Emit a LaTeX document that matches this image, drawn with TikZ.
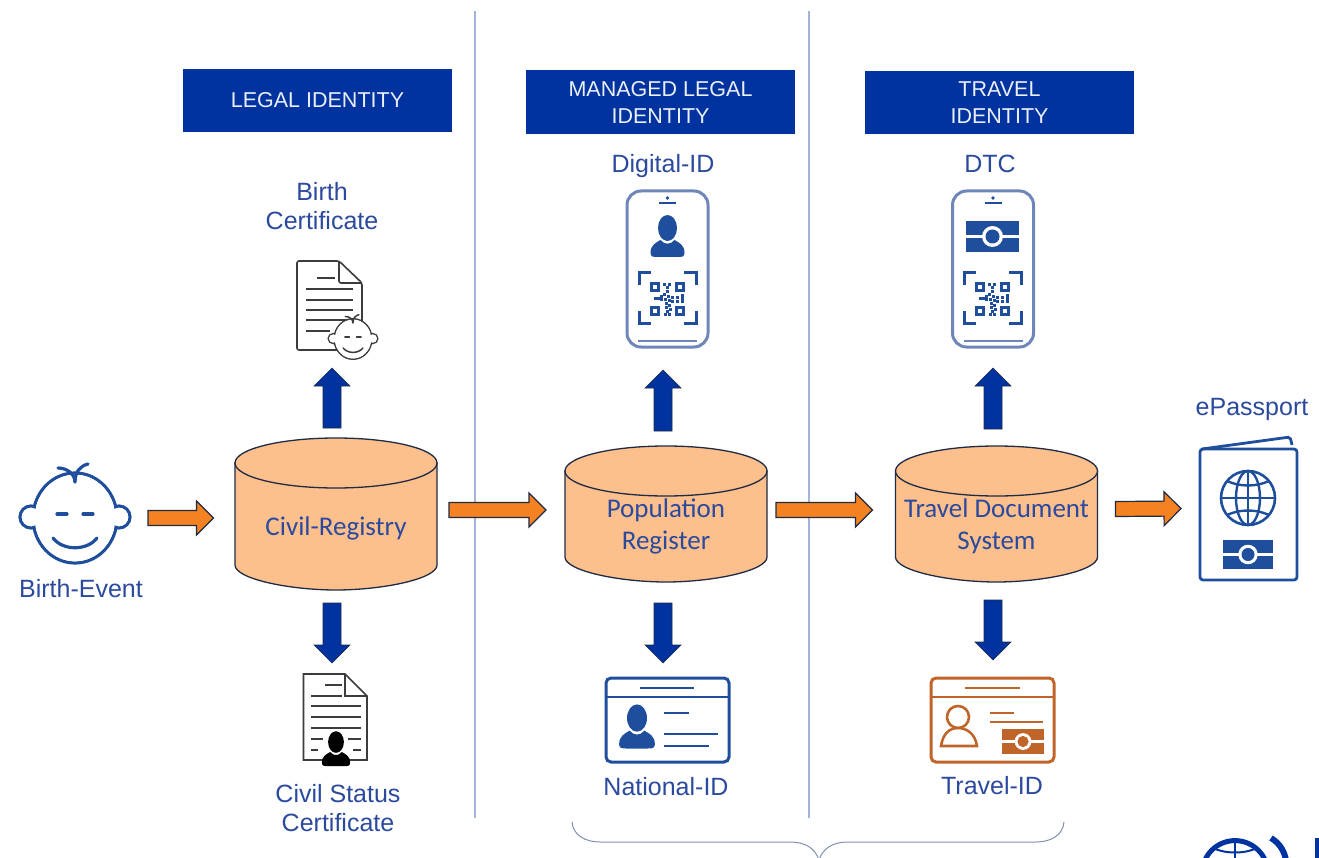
\documentclass[tikz,border=0pt]{standalone}
\usepackage{fontspec}
\setmainfont{Liberation Sans}
\newfontfamily\carlitofont{Carlito}
\usepackage{tikz}
\usetikzlibrary{backgrounds,calc}

\definecolor{headerblue}{HTML}{0033A0}
\definecolor{textblue}{HTML}{2B4A9E}
\definecolor{iconblue}{HTML}{1F4E9C}
\definecolor{phoneblue}{HTML}{6F86B8}
\definecolor{ruleblue}{HTML}{A3B3D9}
\definecolor{bracegray}{HTML}{7F8FB0}
\definecolor{arroworange}{HTML}{F58220}
\definecolor{cylorange}{HTML}{FDBF8C}
\definecolor{outlinedark}{HTML}{1F2A44}
\definecolor{iddarkorange}{HTML}{C0652A}
\definecolor{docgray}{HTML}{3C3C3C}

\begin{document}
\begin{tikzpicture}[x=1pt,y=-1pt,
	header/.style={fill=headerblue,text=white!92!headerblue,minimum width=269pt,minimum height=63.5pt,inner sep=0pt,align=center,font=\fontsize{21.5}{27}\selectfont},
	label/.style={text=textblue,inner sep=0pt,align=center,font=\fontsize{25}{29}\selectfont},
	registry/.style={minimum width=202pt,inner sep=0pt,outer sep=0pt,text=textblue,align=center,font=\carlitofont\fontsize{27}{32}\selectfont},
	drum/.style={draw=outlinedark,line width=1.3pt,fill=cylorange},
	iconbox/.style={inner sep=0pt,outer sep=0pt},
	blockarrow/.style n args={3}{to path={
		($(\tikztostart)!#1pt!90:(\tikztotarget)$)
		-- ($(\tikztotarget)!#3pt!(\tikztostart)!#1pt!-90:(\tikztostart)$)
		-- ($(\tikztotarget)!#3pt!(\tikztostart)!#2pt!-90:(\tikztostart)$)
		-- (\tikztotarget)
		-- ($(\tikztotarget)!#3pt!(\tikztostart)!#2pt!90:(\tikztostart)$)
		-- ($(\tikztotarget)!#3pt!(\tikztostart)!#1pt!90:(\tikztostart)$)
		-- ($(\tikztostart)!#1pt!-90:(\tikztotarget)$) -- cycle}},
	orangearrow/.style={draw=outlinedark,line width=1.2pt,fill=arroworange,blockarrow={7.5}{17}{17}},
	bluearrow/.style={draw=outlinedark,line width=.6pt,fill=headerblue,blockarrow={9}{18}{18}},
	baby/.pic={
		\draw (-44,-1) circle (11);
		\draw (44,-1) circle (11);
		\draw (0,0) ellipse [x radius=42,y radius=45];
		\fill[white] (-44,-1) circle (9.3);
		\fill[white] (44,-1) circle (9.3);
		\fill[white] (0,0) ellipse [x radius=40.3,y radius=43.3];
		\draw[line cap=round] (0,-36) .. controls (0,-44) and (-8,-50) .. (-17,-50);
		\draw[line cap=round] (0,-36) .. controls (0,-46) and (5,-52) .. (13,-54);
		\draw[line cap=round] (-18,-4) -- (-8,-4);
		\draw[line cap=round] (8,-4) -- (18,-4);
		\draw[line cap=round] (-22,20) .. controls (-12,33) and (12,33) .. (22,20);
	},
	person/.pic={
		\fill (-17,16) .. controls (-17,8) and (-12,6) .. (-7,3) .. controls (-3,8) and (3,8) .. (7,3)
			.. controls (12,6) and (17,8) .. (17,16) .. controls (17,20) and (14,20) .. (10,20)
			-- (-10,20) .. controls (-14,20) and (-17,20) .. (-17,16) -- cycle;
		\fill (0,-9) ellipse [x radius=9.5,y radius=13];
	},
	seal/.pic={
		\fill (-26.5,-15.5) rectangle (26.5,15.5);
		\draw[white,line width=2.6pt] (-26.5,0) -- (26.5,0);
		\fill[white] (0,0) circle (10.5);
		\fill (0,0) circle (7);
	},
	qrcode/.pic={
		\draw[line width=3pt] (-28.5,-13) -- (-28.5,-25.5) -- (-16.5,-25.5);
		\draw[line width=3pt] (16.5,-25.5) -- (28.5,-25.5) -- (28.5,-13);
		\draw[line width=3pt] (-28.5,13) -- (-28.5,25.5) -- (-16.5,25.5);
		\draw[line width=3pt] (16.5,25.5) -- (28.5,25.5) -- (28.5,13);
		\foreach \qx/\qy in {-12.5/-11.5,12.5/-11.5,-12.5/12.5,12.5/12.5}
			\draw[line width=2.2pt] (\qx-3.5,\qy-3.5) rectangle (\qx+3.5,\qy+3.5);
		\foreach \qx/\qy in {-3/-14,2/-14,0/-11,0/-7,-12/0,-9/0,-6/-2,-6/1,-3/-4,-2/1,1/-2,2/2,5/-1,5/3,10/-1,15/-3,15/0,15/3,10/3,-1/5,2/7,-1/9,3/11,0/13,-2/16,2/16}
			\fill (\qx-1.6,\qy-1.6) rectangle (\qx+1.6,\qy+1.6);
	},
	phone/.pic={
		\draw[phoneblue,line width=3pt,rounded corners=14pt,fill=white] (-40.5,-78) rectangle (40.5,78);
		\fill (0,-71) circle (1.8);
		\draw[line width=1.3pt] (-8.5,-66) -- (8.5,-66);
		\draw[phoneblue,line width=1.3pt] (-29.5,72) -- (29.5,72);
	},
	]
	\clip (0,0) rectangle (1319,858);

	% Column separators
	\draw[ruleblue,line width=1.5pt] (475,11) -- (475,818);
	\draw[ruleblue,line width=1.5pt] (809,11) -- (809,818);

	% Column headers
	\node[header] (legalhead) at (317.5,100.5) {LEGAL IDENTITY};
	\node[header] (managedhead) at (660.5,102) {MANAGED LEGAL\\IDENTITY};
	\node[header] (travelhead) at (999.5,102.5) {TRAVEL\\IDENTITY};

	% Registries
	\node[registry,minimum height=127pt,text height=22pt] (civil) at (336,526.5) {Civil-Registry};
	\node[registry,minimum height=111pt] (population) at (666,526.5) {Population\\Register};
	\node[registry,minimum height=111pt] (traveldoc) at (996.5,526.5) {Travel Document\\System};
	\begin{scope}[on background layer]
		\foreach \reg in {civil,population,traveldoc} {
			\draw[drum] (\reg.north west) -- ([yshift=25pt]\reg.south west) .. controls ([yshift=11pt]\reg.south west) and ([xshift=55pt]\reg.south west) .. (\reg.south) .. controls ([xshift=-55pt]\reg.south east) and ([yshift=11pt]\reg.south east) .. ([yshift=25pt]\reg.south east) -- (\reg.north east) -- cycle;
			\draw[drum] (\reg.north) ellipse [x radius=101,y radius=25];
		}
	\end{scope}

	% Icon places
	\node[iconbox,minimum width=112pt,minimum height=92pt] (birthevent) at (75,517) {};
	\node[iconbox,minimum width=82pt,minimum height=98pt] (birthcert) at (337,310) {};
	\node[iconbox,minimum width=64pt,minimum height=92pt] (civilcert) at (335.5,720) {};
	\node[iconbox,minimum width=81pt,minimum height=156pt] (digitalid) at (667.5,269) {};
	\node[iconbox,minimum width=123pt,minimum height=84pt] (nationalid) at (667.5,720) {};
	\node[iconbox,minimum width=81pt,minimum height=156pt] (dtc) at (993,269) {};
	\node[iconbox,minimum width=123pt,minimum height=84pt] (travelid) at (992.5,720) {};
	\node[iconbox,minimum width=97pt,minimum height=143pt] (passport) at (1248.5,508.5) {};

	% Labels
	\node[label] (birtheventlabel) at (81,589) {Birth-Event};
	\node[label] (birthcertlabel) at (322,206.5) {Birth\\Certificate};
	\node[label] (civilcertlabel) at (338,808.5) {Civil Status\\Certificate};
	\node[label] (digitalidlabel) at (663,166) {Digital-ID};
	\node[label] (nationalidlabel) at (666,787) {National-ID};
	\node[label] (dtclabel) at (990,164) {DTC};
	\node[label] (travelidlabel) at (992,786) {Travel-ID};
	\node[label] (passportlabel) at (1252,409) {ePassport};

	% Birth event face
	\pic[color=iconblue,line width=3.2pt] at (75,518) {baby};

	% Birth certificate
	\draw[docgray,line width=1.6pt,rounded corners=2pt] (339,261) -- (297,261) -- (297,350) -- (362,350) -- (362,283) -- cycle;
	\draw[docgray,line width=1.6pt,rounded corners=2pt] (339,261) -- (339,283) -- (362,283);
	\draw[docgray,line width=1.4pt] (317,278) -- (335,278);
	\foreach \ly in {289,300,310,320}
		\draw[docgray,line width=1.4pt] (306,\ly) -- (353,\ly);
	\draw[docgray,line width=1.4pt] (306,331) -- (330,331);
	\pic[color=docgray,line width=1.5pt,scale=.45] at (353,339) {baby};

	% Civil status certificate
	\draw[docgray,line width=1.6pt] (345,674) -- (303.5,674) -- (303.5,760) -- (367,760) -- (367,696) -- cycle;
	\draw[docgray,line width=1.6pt] (345,674) -- (345,696) -- (367,696);
	\draw[docgray,line width=1.6pt] (325,685) -- (342,685);
	\draw[docgray,line width=1.6pt] (311,696) -- (342,696);
	\foreach \ly in {706,717,728}
		\draw[docgray,line width=1.6pt] (311,\ly) -- (361,\ly);
	\draw[docgray,line width=1.6pt] (311,739) -- (323,739);
	\draw[docgray,line width=1.6pt] (348,739) -- (361,739);
	\draw[docgray,line width=1.6pt] (311,750) -- (318,750);
	\draw[docgray,line width=1.6pt] (353,750) -- (361,750);
	\pic[color=black,scale=.83] at (336,749.5) {person};

	% Digital-ID phone
	\pic[color=iconblue] at (667.5,269) {phone};
	\pic[color=iconblue] at (667.5,237) {person};
	\pic[color=iconblue] at (667.5,298.5) {qrcode};

	% DTC phone
	\pic[color=iconblue] at (993,269) {phone};
	\pic[color=iconblue] at (992.5,236.5) {seal};
	\pic[color=iconblue] at (992.5,298.5) {qrcode};

	% National-ID card
	\draw[iconblue,line width=3pt,rounded corners=5pt] (606,678) rectangle (729,762);
	\draw[iconblue,line width=2.6pt] (606,697) -- (729,697);
	\draw[iconblue,line width=2.6pt] (640,688) -- (694,688);
	\draw[iconblue,line width=2.6pt] (664,713) -- (689,713);
	\draw[iconblue,line width=2.6pt] (664,734) -- (718,734);
	\draw[iconblue,line width=2.6pt] (664,746) -- (709,746);
	\pic[color=iconblue,scale=1.05] at (637,727.5) {person};

	% Travel-ID card
	\draw[iddarkorange,line width=3pt,rounded corners=5pt] (931,678) rectangle (1054,762);
	\draw[iddarkorange,line width=2.6pt] (931,697) -- (1054,697);
	\draw[iddarkorange,line width=2.6pt] (965,688) -- (1020,688);
	\draw[iddarkorange,line width=2.6pt] (990,713) -- (1014,713);
	\draw[iddarkorange,line width=2.6pt] (990,722) -- (1043,722);
	\draw[iddarkorange,line width=2.6pt] (958,717) circle (11);
	\draw[iddarkorange,line width=2.6pt] (941,746) .. controls (943,733) and (950,728) .. (958,728) .. controls (966,728) and (975,733) .. (977,746) -- cycle;
	\pic[color=iddarkorange,scale=.8] at (1023,741.5) {seal};

	% ePassport
	\draw[iconblue,line width=2.8pt,rounded corners=3pt] (1200,449) rectangle (1297,580);
	\draw[iconblue,line width=2.8pt,rounded corners=2pt] (1202,449) -- (1290,437) -- (1292,445);
	\draw[iconblue,line width=2.6pt] (1248,498) circle (27);
	\draw[iconblue,line width=2.4pt] (1248,498) ellipse [x radius=12,y radius=27];
	\draw[iconblue,line width=2.4pt] (1248,471) -- (1248,525);
	\draw[iconblue,line width=2.4pt] (1221,498) -- (1275,498);
	\draw[iconblue,line width=2.4pt] (1227,481) .. controls (1240,487) and (1256,487) .. (1269,481);
	\draw[iconblue,line width=2.4pt] (1227,515) .. controls (1240,509) and (1256,509) .. (1269,515);
	\pic[color=iconblue,scale=.93] at (1248,554.5) {seal};

	% Flow between columns
	\draw[orangearrow] ([xshift=17pt,yshift=-1pt]birthevent.east) to ([xshift=-21.5pt,yshift=8.5pt]civil.west);
	\draw[orangearrow] ([xshift=12pt,yshift=16.5pt]civil.east) to ([xshift=-19pt,yshift=16.5pt]population.west);
	\draw[orangearrow] ([xshift=9pt,yshift=16.5pt]population.east) to ([xshift=-23pt,yshift=16.5pt]traveldoc.west);
	\draw[orangearrow] ([xshift=18pt,yshift=17.5pt]traveldoc.east) to ([xshift=-19pt,yshift=0pt]passport.west);

	% Documents issued by each registry
	\draw[bluearrow] ([xshift=-4pt,yshift=35pt]civil.north) to ([xshift=-5pt,yshift=-9pt]birthcert.south);
	\draw[bluearrow] ([xshift=-4pt,yshift=-13pt]civil.south) to ([xshift=-3.5pt,yshift=11pt]civilcert.north);
	\draw[bluearrow] ([xshift=-3pt,yshift=40pt]population.north) to ([xshift=-4.5pt,yshift=-23pt]digitalid.south);
	\draw[bluearrow] ([xshift=-3pt,yshift=-21pt]population.south) to ([xshift=-4.5pt,yshift=15pt]nationalid.north);
	\draw[bluearrow] ([xshift=-3.5pt,yshift=42pt]traveldoc.north) to ([yshift=-21pt]dtc.south);
	\draw[bluearrow] ([xshift=-3.5pt,yshift=-18pt]traveldoc.south) to ([xshift=.5pt,yshift=18pt]travelid.north);

	% Bottom brace
	\draw[bracegray,line width=1pt] (572,822) .. controls (573,835) and (585,842) .. (600,842) -- (790,842) .. controls (805,842) and (815,848) .. (819,860);
	\draw[bracegray,line width=1pt] (1064,822) .. controls (1063,835) and (1051,842) .. (1036,842) -- (848,842) .. controls (833,842) and (823,848) .. (819,860);

	% Logo at the corner
	\draw[headerblue,line width=5pt] (1235,873.6) circle (33);
	\draw[headerblue,line width=2pt] (1235,840) -- (1235,858);
	\draw[headerblue,line width=2pt] (1213,848) .. controls (1225,854) and (1245,854) .. (1257,848);
	\draw[headerblue,line width=6pt] (1271,838) .. controls (1279,843) and (1284,850) .. (1286,860);
	\fill[headerblue] (1315,838) rectangle (1319,858);
\end{tikzpicture}
\end{document}
